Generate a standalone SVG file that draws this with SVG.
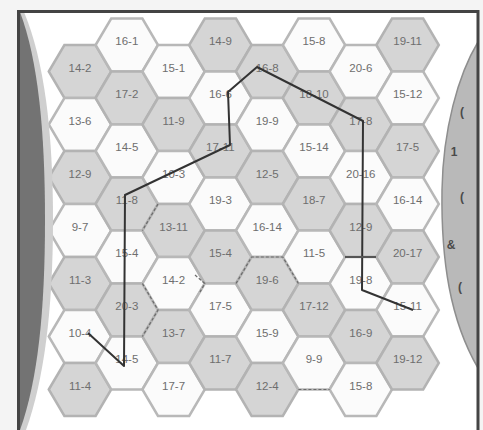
<svg xmlns="http://www.w3.org/2000/svg" xmlns:xlink="http://www.w3.org/1999/xlink" width="483" height="430" viewBox="0 0 483 430">
<defs>
<path id="hx" d="M-31.2,0 L-15.6,-26.5 L15.6,-26.5 L31.2,0 L15.6,26.5 L-15.6,26.5 Z"/>
<style>
.g{fill:#d5d5d5;stroke:#b3b3b3;stroke-width:2.5}
.w{fill:#fbfbfb;stroke:#b8b8b8;stroke-width:2.5}
text{font-family:"Liberation Sans",Arial,sans-serif;font-size:11.5px;fill:#6e6e6e;text-anchor:middle}
.mk{font-size:12px;font-weight:bold;fill:#4a4a4a}
.dash{fill:none;stroke:#6a6a6a;stroke-width:1.2;stroke-dasharray:3 2}
</style>
</defs>
<rect width="483" height="430" fill="#f4f4f4"/>
<rect x="17" y="12" width="461" height="418" fill="#ffffff"/>

<g id="hexes">
<g id="n0-0"><use xlink:href="#hx" class="g" x="80" y="71.5"/><text x="80" y="71.5">14-2</text></g>
<g id="n0-1"><use xlink:href="#hx" class="w" x="80" y="124.5"/><text x="80" y="124.5">13-6</text></g>
<g id="n0-2"><use xlink:href="#hx" class="g" x="80" y="177.5"/><text x="80" y="177.5">12-9</text></g>
<g id="n0-3"><use xlink:href="#hx" class="w" x="80" y="230.5"/><text x="80" y="230.5">9-7</text></g>
<g id="n0-4"><use xlink:href="#hx" class="g" x="80" y="283.5"/><text x="80" y="283.5">11-3</text></g>
<g id="n0-5"><use xlink:href="#hx" class="w" x="80" y="336.5"/><text x="80" y="336.5">10-4</text></g>
<g id="n0-6"><use xlink:href="#hx" class="g" x="80" y="389.5"/><text x="80" y="389.5">11-4</text></g>

<g id="n1-0"><use xlink:href="#hx" class="w" x="126.8" y="45"/><text x="126.8" y="45">16-1</text></g>
<g id="n1-1"><use xlink:href="#hx" class="g" x="126.8" y="98"/><text x="126.8" y="98">17-2</text></g>
<g id="n1-2"><use xlink:href="#hx" class="w" x="126.8" y="151"/><text x="126.8" y="151">14-5</text></g>
<g id="n1-3"><use xlink:href="#hx" class="g" x="126.8" y="204"/><text x="126.8" y="204">11-8</text></g>
<g id="n1-4"><use xlink:href="#hx" class="w" x="126.8" y="257"/><text x="126.8" y="257">15-4</text></g>
<g id="n1-5"><use xlink:href="#hx" class="g" x="126.8" y="310"/><text x="126.8" y="310">20-3</text></g>
<g id="n1-6"><use xlink:href="#hx" class="w" x="126.8" y="363"/><text x="126.8" y="363">14-5</text></g>

<g id="n2-0"><use xlink:href="#hx" class="w" x="173.6" y="71.5"/><text x="173.6" y="71.5">15-1</text></g>
<g id="n2-1"><use xlink:href="#hx" class="g" x="173.6" y="124.5"/><text x="173.6" y="124.5">11-9</text></g>
<g id="n2-2"><use xlink:href="#hx" class="w" x="173.6" y="177.5"/><text x="173.6" y="177.5">10-3</text></g>
<g id="n2-3"><use xlink:href="#hx" class="g" x="173.6" y="230.5"/><text x="173.6" y="230.5">13-11</text></g>
<g id="n2-4"><use xlink:href="#hx" class="w" x="173.6" y="283.5"/><text x="173.6" y="283.5">14-2</text></g>
<g id="n2-5"><use xlink:href="#hx" class="g" x="173.6" y="336.5"/><text x="173.6" y="336.5">13-7</text></g>
<g id="n2-6"><use xlink:href="#hx" class="w" x="173.6" y="389.5"/><text x="173.6" y="389.5">17-7</text></g>

<g id="n3-0"><use xlink:href="#hx" class="g" x="220.4" y="45"/><text x="220.4" y="45">14-9</text></g>
<g id="n3-1"><use xlink:href="#hx" class="w" x="220.4" y="98"/><text x="220.4" y="98">16-6</text></g>
<g id="n3-2"><use xlink:href="#hx" class="g" x="220.4" y="151"/><text x="220.4" y="151">17-11</text></g>
<g id="n3-3"><use xlink:href="#hx" class="w" x="220.4" y="204"/><text x="220.4" y="204">19-3</text></g>
<g id="n3-4"><use xlink:href="#hx" class="g" x="220.4" y="257"/><text x="220.4" y="257">15-4</text></g>
<g id="n3-5"><use xlink:href="#hx" class="w" x="220.4" y="310"/><text x="220.4" y="310">17-5</text></g>
<g id="n3-6"><use xlink:href="#hx" class="g" x="220.4" y="363"/><text x="220.4" y="363">11-7</text></g>

<g id="n4-0"><use xlink:href="#hx" class="g" x="267.2" y="71.5"/><text x="267.2" y="71.5">16-8</text></g>
<g id="n4-1"><use xlink:href="#hx" class="w" x="267.2" y="124.5"/><text x="267.2" y="124.5">19-9</text></g>
<g id="n4-2"><use xlink:href="#hx" class="g" x="267.2" y="177.5"/><text x="267.2" y="177.5">12-5</text></g>
<g id="n4-3"><use xlink:href="#hx" class="w" x="267.2" y="230.5"/><text x="267.2" y="230.5">16-14</text></g>
<g id="n4-4"><use xlink:href="#hx" class="g" x="267.2" y="283.5"/><text x="267.2" y="283.5">19-6</text></g>
<g id="n4-5"><use xlink:href="#hx" class="w" x="267.2" y="336.5"/><text x="267.2" y="336.5">15-9</text></g>
<g id="n4-6"><use xlink:href="#hx" class="g" x="267.2" y="389.5"/><text x="267.2" y="389.5">12-4</text></g>

<g id="n5-0"><use xlink:href="#hx" class="w" x="314" y="45"/><text x="314" y="45">15-8</text></g>
<g id="n5-1"><use xlink:href="#hx" class="g" x="314" y="98"/><text x="314" y="98">18-10</text></g>
<g id="n5-2"><use xlink:href="#hx" class="w" x="314" y="151"/><text x="314" y="151">15-14</text></g>
<g id="n5-3"><use xlink:href="#hx" class="g" x="314" y="204"/><text x="314" y="204">18-7</text></g>
<g id="n5-4"><use xlink:href="#hx" class="w" x="314" y="257"/><text x="314" y="257">11-5</text></g>
<g id="n5-5"><use xlink:href="#hx" class="g" x="314" y="310"/><text x="314" y="310">17-12</text></g>
<g id="n5-6"><use xlink:href="#hx" class="w" x="314" y="363"/><text x="314" y="363">9-9</text></g>

<g id="n6-0"><use xlink:href="#hx" class="w" x="360.8" y="71.5"/><text x="360.8" y="71.5">20-6</text></g>
<g id="n6-1"><use xlink:href="#hx" class="g" x="360.8" y="124.5"/><text x="360.8" y="124.5">17-8</text></g>
<g id="n6-2"><use xlink:href="#hx" class="w" x="360.8" y="177.5"/><text x="360.8" y="177.5">20-16</text></g>
<g id="n6-3"><use xlink:href="#hx" class="g" x="360.8" y="230.5"/><text x="360.8" y="230.5">12-9</text></g>
<g id="n6-4"><use xlink:href="#hx" class="w" x="360.8" y="283.5"/><text x="360.8" y="283.5">19-8</text></g>
<g id="n6-5"><use xlink:href="#hx" class="g" x="360.8" y="336.5"/><text x="360.8" y="336.5">16-9</text></g>
<g id="n6-6"><use xlink:href="#hx" class="w" x="360.8" y="389.5"/><text x="360.8" y="389.5">15-8</text></g>

<g id="n7-0"><use xlink:href="#hx" class="g" x="407.6" y="45"/><text x="407.6" y="45">19-11</text></g>
<g id="n7-1"><use xlink:href="#hx" class="w" x="407.6" y="98"/><text x="407.6" y="98">15-12</text></g>
<g id="n7-2"><use xlink:href="#hx" class="g" x="407.6" y="151"/><text x="407.6" y="151">17-5</text></g>
<g id="n7-3"><use xlink:href="#hx" class="w" x="407.6" y="204"/><text x="407.6" y="204">16-14</text></g>
<g id="n7-4"><use xlink:href="#hx" class="g" x="407.6" y="257"/><text x="407.6" y="257">20-17</text></g>
<g id="n7-5"><use xlink:href="#hx" class="w" x="407.6" y="310"/><text x="407.6" y="310">15-11</text></g>
<g id="n7-6"><use xlink:href="#hx" class="g" x="407.6" y="363"/><text x="407.6" y="363">19-12</text></g>
</g>

<g id="dashed-edges">
<path class="dash" d="M158,204 L142.4,230.5"/>
<path class="dash" d="M142.4,283.5 L158,310 L142.4,336.5"/>
<path class="dash" d="M195,275 L204.8,283.5 L200,292"/>
<path class="dash" d="M236,283.5 L251.6,257 L282.8,257 L298.4,283.5"/>
<path class="dash" d="M298.4,389.5 L329.6,389.5"/>
</g>

<g id="left-edge">
<path d="M17,12 L24,12 C44,60 53,130 53,220 C53,310 44,380 26,430 L17,430 Z" fill="#cfcfcf"/>
<path d="M17,12 L20,12 C38,60 45,130 45,220 C45,310 38,380 20,430 L17,430 Z" fill="#737373"/>
<line x1="18.5" y1="12" x2="18.5" y2="430" stroke="#444" stroke-width="3"/>
</g>

<g id="right-edge">
<path d="M478,42 C458,75 443,130 442,190 C441,260 450,320 478,368 Z" fill="#b9b9b9" stroke="#8e8e8e" stroke-width="1.5"/>
<text class="mk" x="462" y="116">(</text>
<text class="mk" x="454" y="156">1</text>
<text class="mk" x="462" y="201">(</text>
<text class="mk" x="451" y="249">&amp;</text>
<text class="mk" x="460" y="291">(</text>
</g>

<g id="frame">
<line x1="17" y1="11.5" x2="479" y2="11.5" stroke="#444" stroke-width="3"/>
<line x1="478" y1="10" x2="478" y2="430" stroke="#444" stroke-width="3"/>
</g>

<g id="connectors" fill="none" stroke="#333" stroke-width="2" stroke-linejoin="round">
<polyline points="88,333 124,366 125,195 230,145 228,92 257,67 363,121 362,290 413,310"/>
<line x1="345" y1="257" x2="376" y2="257" stroke="#555"/>
</g>
</svg>
